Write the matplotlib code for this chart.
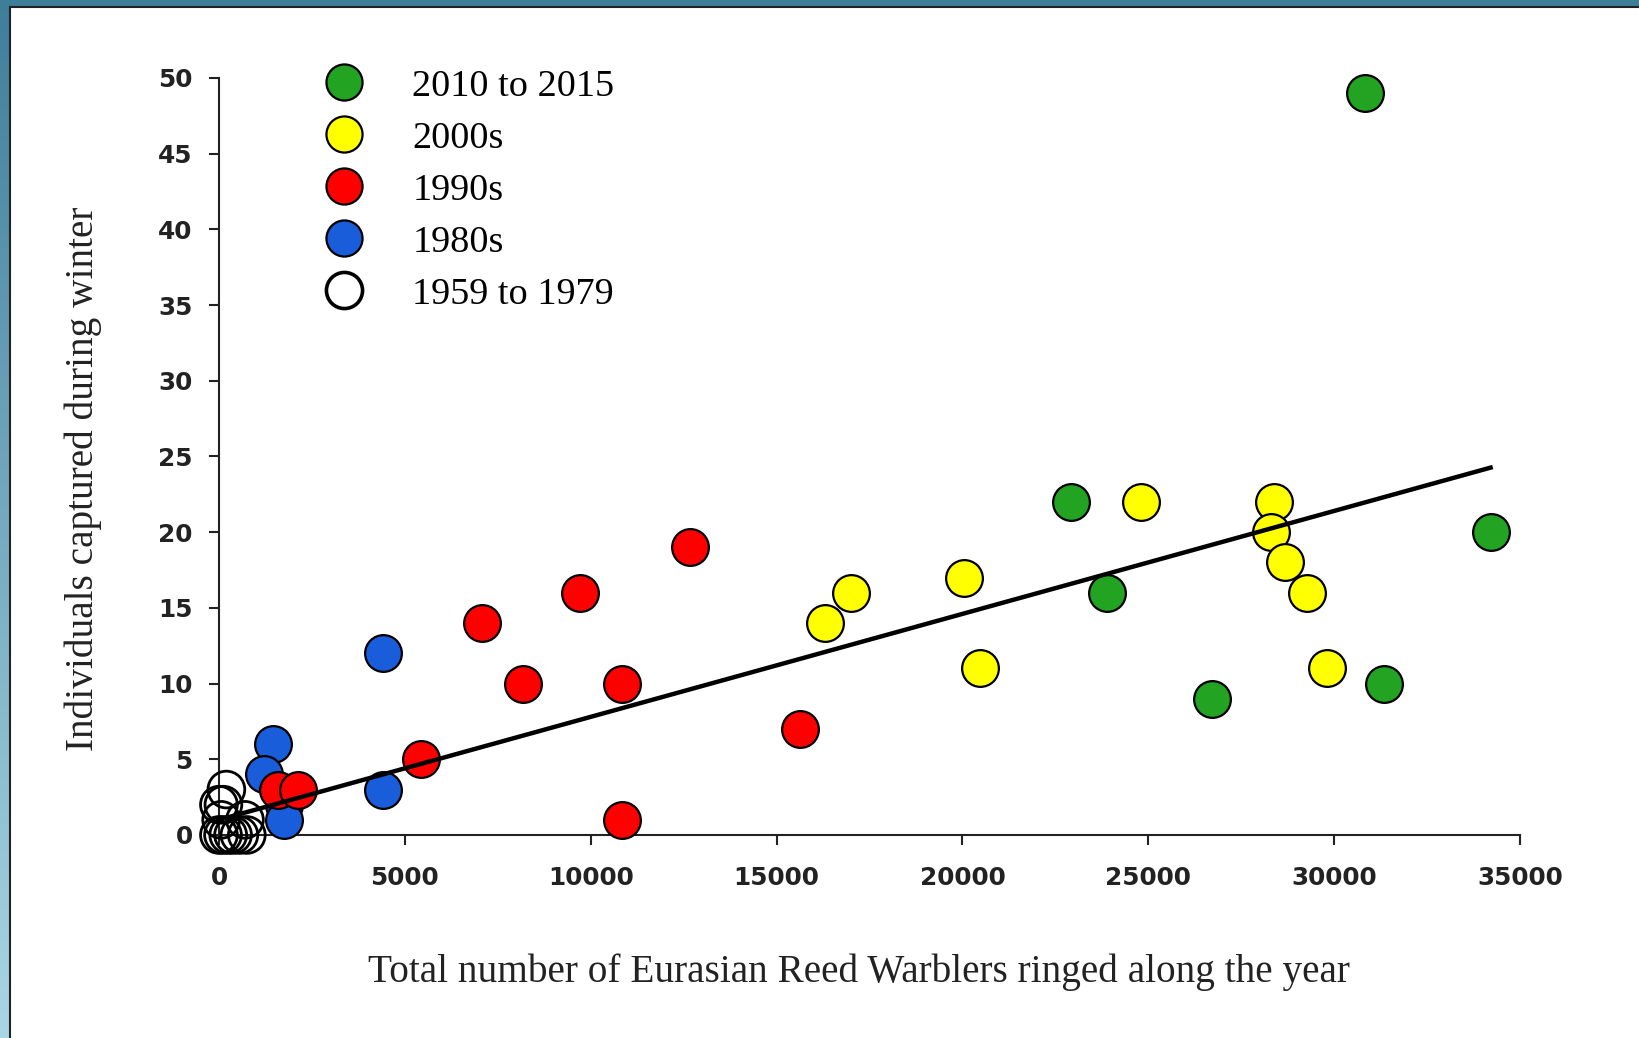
import matplotlib.pyplot as plt
import numpy as np
from matplotlib.colors import LinearSegmentedColormap
from matplotlib.lines import Line2D
from matplotlib.patches import Rectangle

# ringed birds per year (x) vs individuals captured in winter (y), grouped by period
x_2010s = [30830, 22920, 23880, 26720, 31340, 34210]
y_2010s = [49, 22, 16, 9, 10, 20]

x_2000s = [24810, 28380, 28300, 28690, 29280, 29820, 20050, 20470, 17010, 16300]
y_2000s = [22, 22, 20, 18, 16, 11, 17, 11, 16, 14]

x_1990s = [12670, 9710, 7070, 8170, 10840, 10840, 15630, 5430, 1580, 2120]
y_1990s = [19, 16, 14, 10, 10, 1, 7, 5, 3, 3]

x_1980s = [4420, 4420, 1460, 1200, 1750, 1750]
y_1980s = [12, 3, 6, 4, 2, 1]

x_early = [0, 110, 250, 380, 550, 750, 0, 60, 700, 200, 120]
y_early = [0, 0, 0, 0, 0, 0, 2, 1, 1, 3, 2]

# linear trend
trend_intercept = 1.0
trend_slope = 0.00068
trend_x = [0, 34210]

labels = ["2010 to 2015", "2000s", "1990s", "1980s", "1959 to 1979"]
xticks = [0, 5000, 10000, 15000, 20000, 25000, 30000, 35000]
yticks = [0, 5, 10, 15, 20, 25, 30, 35, 40, 45, 50]

c_green = "#22a322"
c_yellow = "#ffff00"
c_red = "#ff0000"
c_blue = "#1a5ddb"

fig = plt.figure(figsize=(16.4, 10.38), dpi=100)

# slide frame: blue gradient behind a white panel
bg = fig.add_axes([0, 0, 1, 1], zorder=-10)
grad = np.linspace(0, 1, 256).reshape(-1, 1)
cmap = LinearSegmentedColormap.from_list("frame", ["#3f7e9b", "#a9d6e4"])
bg.imshow(grad, aspect="auto", cmap=cmap, extent=[0, 1, 0, 1], origin="upper")
bg.add_patch(Rectangle((10.5 / 1640, -0.01), 1.02, (1038 - 6.5) / 1038 + 0.01,
                       facecolor="white", edgecolor="#222222", linewidth=1.5))
bg.set_xlim(0, 1)
bg.set_ylim(0, 1)
bg.axis("off")

ax = fig.add_axes([0.1335, 0.1956, 0.7933, 0.7293])
ax.patch.set_alpha(0)

size = 700
ew = 1.6
ax.scatter(x_early, y_early, s=size, facecolor="none", edgecolor="black", linewidth=2.0, clip_on=False, zorder=3)
ax.scatter(x_1980s, y_1980s, s=size, facecolor=c_blue, edgecolor="black", linewidth=ew, clip_on=False, zorder=3)
ax.scatter(x_1990s, y_1990s, s=size, facecolor=c_red, edgecolor="black", linewidth=ew, clip_on=False, zorder=3)
ax.scatter(x_2000s, y_2000s, s=size, facecolor=c_yellow, edgecolor="black", linewidth=ew, clip_on=False, zorder=3)
ax.scatter(x_2010s, y_2010s, s=size, facecolor=c_green, edgecolor="black", linewidth=ew, clip_on=False, zorder=3)

tx = np.array(trend_x)
ax.plot(tx, trend_intercept + trend_slope * tx, color="black", linewidth=3.2, zorder=4, clip_on=False)

ax.set_xlim(0, 35000)
ax.set_ylim(0, 50)
ax.set_xticks(xticks)
ax.set_yticks(yticks)
for side in ["top", "right"]:
    ax.spines[side].set_visible(False)
for side in ["left", "bottom"]:
    ax.spines[side].set_linewidth(1.5)
    ax.spines[side].set_color("#222222")
ax.tick_params(direction="out", length=7, width=1.5, color="#222222", labelsize=17.8)
ax.tick_params(axis="x", pad=15)
ax.tick_params(axis="y", pad=12)
for lab in ax.get_xticklabels() + ax.get_yticklabels():
    lab.set_fontweight("bold")
    lab.set_color("#222222")

serif = "Liberation Serif"
ax.set_xlabel("Total number of Eurasian Reed Warblers ringed along the year",
              fontsize=28.3, family=serif, color="#222222")
ax.xaxis.set_label_coords(0.492, -0.156)
ax.set_ylabel("Individuals captured during winter", fontsize=28.3, family=serif, color="#222222")
ax.yaxis.set_label_coords(-0.090, 0.47)

colors = [c_green, c_yellow, c_red, c_blue, "white"]
handles = []
for c in colors:
    handles.append(Line2D([], [], linestyle="none", marker="o", markersize=26,
                          markerfacecolor=c, markeredgecolor="black",
                          markeredgewidth=2.6 if c == "white" else ew))
ax.legend(handles, labels, loc="upper left", bbox_to_anchor=(0.046, 1.047), frameon=False,
          prop={"family": serif, "size": 27.5}, labelspacing=0.45, handletextpad=0.8,
          borderpad=0.2)

fig.savefig("out.png", dpi=100)
